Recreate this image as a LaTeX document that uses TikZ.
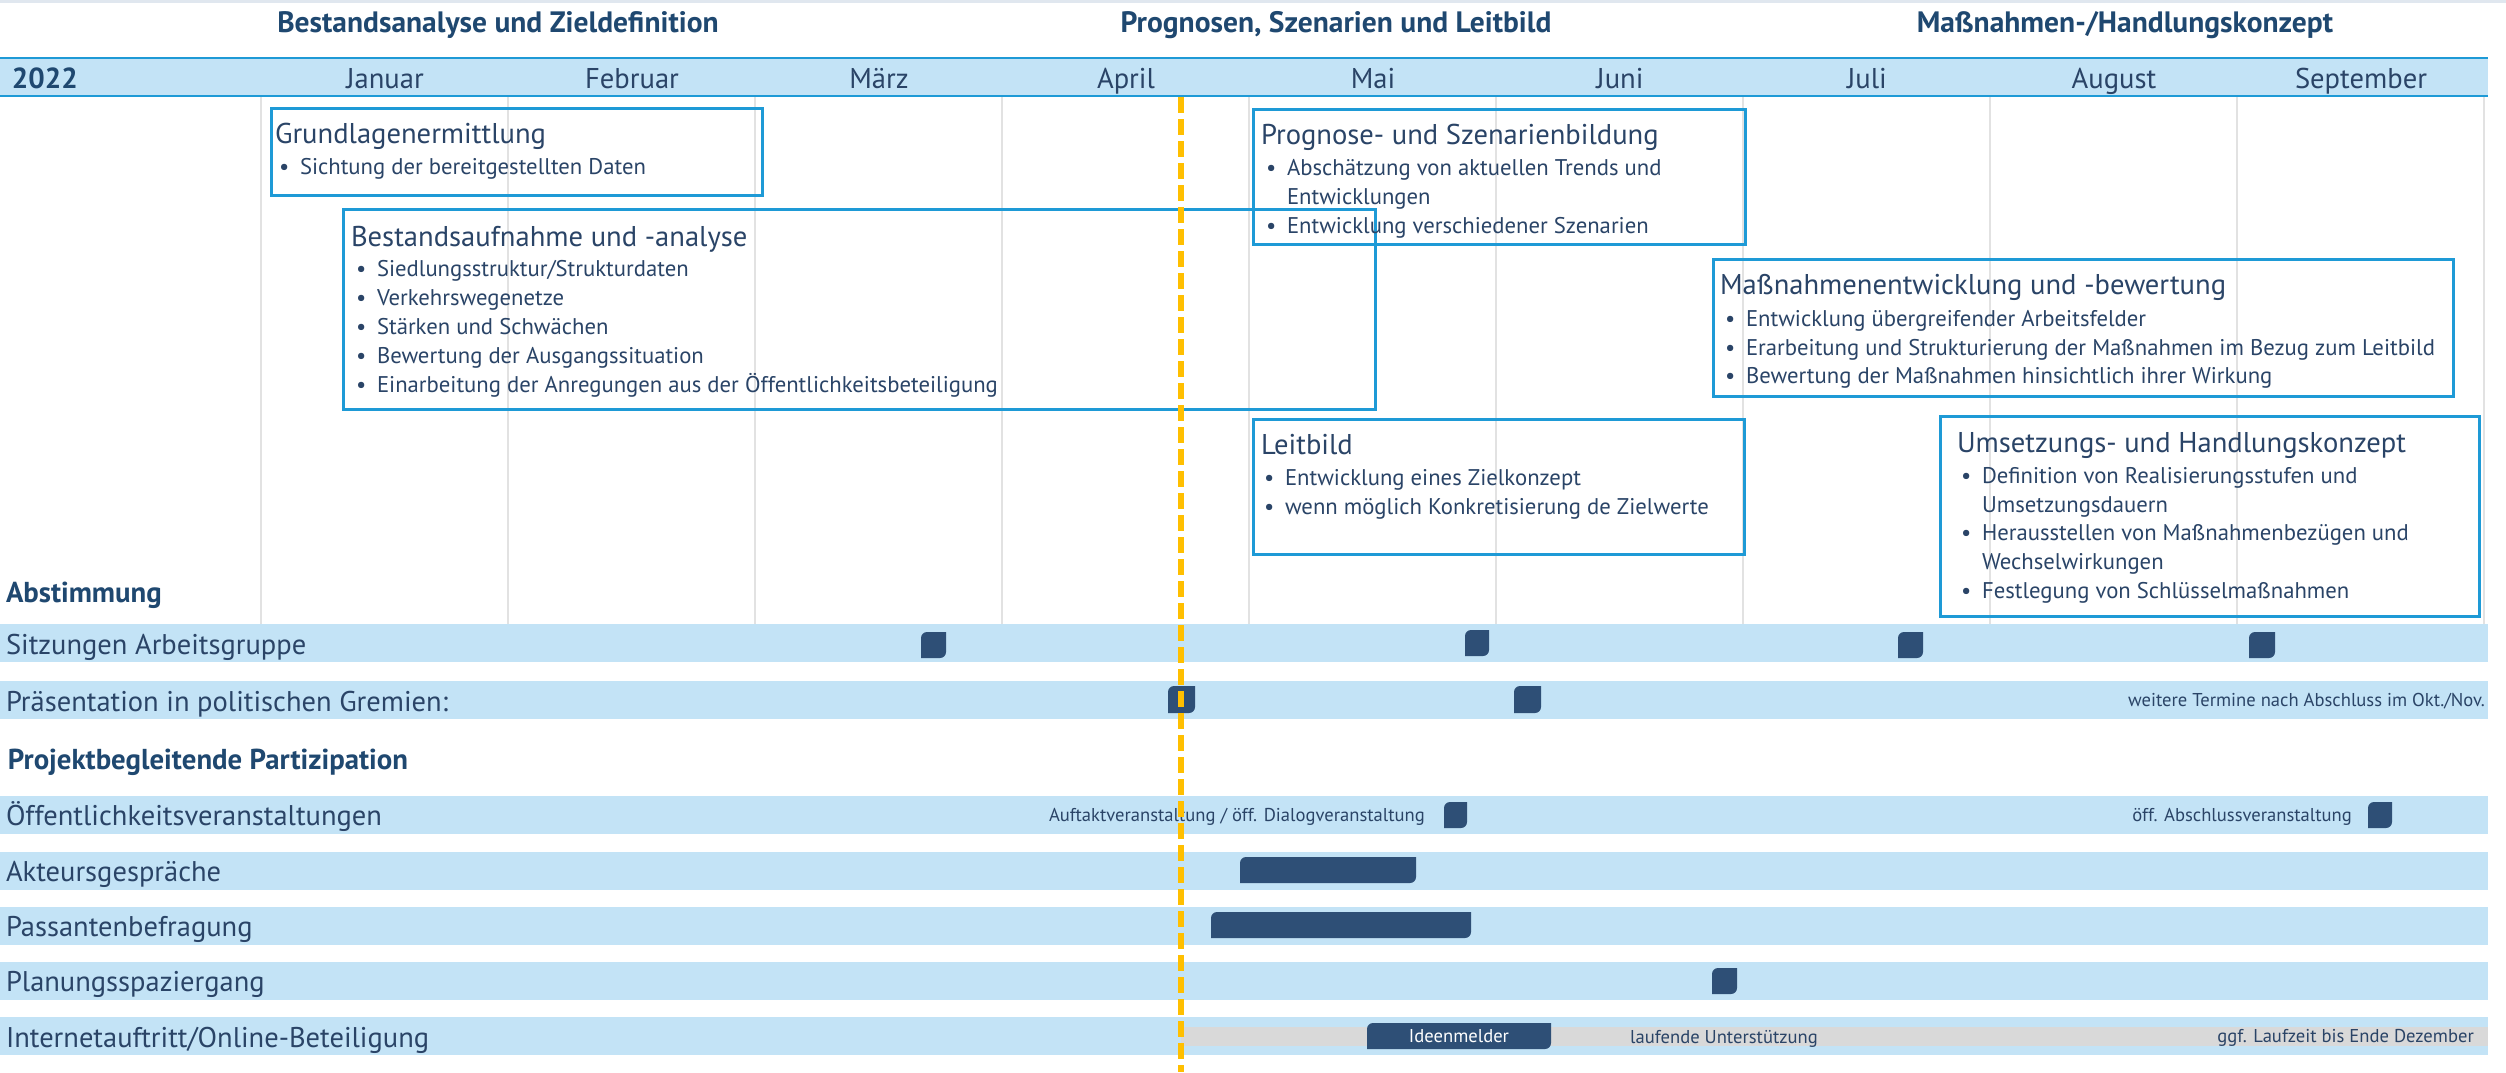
\documentclass[tikz,border=0pt]{standalone}
\usepackage{fontspec}
\setmainfont{PT Sans}
\definecolor{txt}{HTML}{2A4467}
\definecolor{hdr}{HTML}{1F4870}
\definecolor{band}{HTML}{C3E3F6}
\definecolor{bline}{HTML}{1E9AD6}
\definecolor{gridc}{HTML}{E2E2E2}
\definecolor{mk}{HTML}{2E4F76}
\definecolor{today}{HTML}{FFBF00}
\definecolor{greybar}{HTML}{D9D9D9}
\definecolor{topl}{HTML}{E0E7EF}
\tikzset{
 lbl/.style={inner sep=0pt, outer sep=0pt, text=txt, anchor=base west},
 body/.style={lbl, font=\fontsize{22.7}{26}\selectfont},
 btitle/.style={lbl, font=\fontsize{28.6}{32}\selectfont},
 rowlbl/.style={lbl, font=\fontsize{28.5}{32}\selectfont},
 sec/.style={lbl, font=\bfseries\fontsize{28.8}{32}\selectfont, text=hdr},
 phase/.style={inner sep=0pt, font=\bfseries\fontsize{29.5}{32}\selectfont, text=hdr, anchor=base},
 month/.style={inner sep=0pt, font=\fontsize{28.6}{32}\selectfont, text=txt, anchor=base},
 small/.style={inner sep=0pt, font=\fontsize{18.6}{22}\selectfont, text=txt},
 tlbox/.style={draw=bline, line width=2.5pt, inner sep=0pt, anchor=north west},
}
\newcommand\leafmk[4]{\fill[mk] (#1,#4) [rounded corners=6pt] -- (#1,#2) [sharp corners] -- (#3,#2) [rounded corners=6pt] -- (#3,#4) [sharp corners] -- cycle;}
\newcommand\bul{\makebox[21pt][l]{\textbullet}}
\begin{document}
\begin{tikzpicture}[x=1pt,y=-1pt]
\useasboundingbox (0,0) rectangle (2506,1072);
\fill[white] (0,0) rectangle (2506,1072);
\draw[topl, line width=3pt] (0,1.5) -- (2506,1.5);
% grid
\foreach \i in {0,...,9} \draw[gridc, line width=1.5pt] ({261+247*\i},97) -- ({261+247*\i},624);
% month band
\fill[band] (0,58) rectangle (2488,96);
\draw[bline, line width=2.5pt] (0,58) -- (2488,58);
\draw[bline, line width=2.5pt] (0,96) -- (2488,96);
\node[phase] (ph1) at (498,32) {Bestandsanalyse und Zieldefinition};
\node[phase] (ph2) at (1336,32) {Prognosen, Szenarien und Leitbild};
\node[phase] (ph3) at (2125,32) {Maßnahmen-/Handlungskonzept};
\node[lbl, font=\bfseries\fontsize{29}{32}\selectfont, text=hdr] (year) at (12,88) {2022};
\node[month] (m1) at (385,88) {Januar};
\node[month] (m2) at (632,88) {Februar};
\node[month] (m3) at (879,88) {März};
\node[month] (m4) at (1126,88) {April};
\node[month] (m5) at (1373,88) {Mai};
\node[month] (m6) at (1620,88) {Juni};
\node[month] (m7) at (1867,88) {Juli};
\node[month] (m8) at (2114,88) {August};
\node[month] (m9) at (2361,88) {September};
% row bands
\foreach \y in {624,681,796,852,907,962,1017} \fill[band] (0,\y) rectangle (2488,{\y+38});
% boxes
\node[tlbox, minimum width=491pt, minimum height=87pt] (bxGrund) at (270,107) {};
\node[tlbox, minimum width=1032pt, minimum height=200pt] (bxBestand) at (342,208) {};
\node[tlbox, minimum width=492pt, minimum height=135pt] (bxProg) at (1252,108) {};
\node[tlbox, minimum width=740pt, minimum height=137pt] (bxMass) at (1712,258) {};
\node[tlbox, minimum width=491pt, minimum height=135pt] (bxLeit) at (1252,418) {};
\node[tlbox, minimum width=539pt, minimum height=200pt] (bxUms) at (1939,415) {};
% box texts
\node[btitle] (tGrund) at (275,143) {Grundlagenermittlung};
\node[body] (gA) at (279,174) {\bul Sichtung der bereitgestellten Daten};
\node[btitle] (tBest) at (351,246) {Bestandsaufnahme und -analyse};
\node[body] (bA) at (356,276) {\bul Siedlungsstruktur/Strukturdaten};
\node[body] (bB) at (356,305) {\bul Verkehrswegenetze};
\node[body] (bC) at (356,334) {\bul Stärken und Schwächen};
\node[body] (bD) at (356,363) {\bul Bewertung der Ausgangssituation};
\node[body] (bE) at (356,392) {\bul Einarbeitung der Anregungen aus der Öffentlichkeitsbeteiligung};
\node[btitle] (tProg) at (1261,144) {Prognose- und Szenarienbildung};
\node[body] (pA) at (1266,175) {\bul Abschätzung von aktuellen Trends und};
\node[body] (pA2) at (1287,204) {Entwicklungen};
\node[body] (pB) at (1266,233) {\bul Entwicklung verschiedener Szenarien};
\node[btitle] (tMass) at (1720,294) {Maßnahmenentwicklung und -bewertung};
\node[body] (mA) at (1725,326) {\bul Entwicklung übergreifender Arbeitsfelder};
\node[body] (mB) at (1725,355) {\bul Erarbeitung und Strukturierung der Maßnahmen im Bezug zum Leitbild};
\node[body] (mC) at (1725,383) {\bul Bewertung der Maßnahmen hinsichtlich ihrer Wirkung};
\node[btitle] (tLeit) at (1261,454) {Leitbild};
\node[body] (lA) at (1264,485) {\bul Entwicklung eines Zielkonzept};
\node[body] (lB) at (1264,514) {\bul wenn möglich Konkretisierung de Zielwerte};
\node[btitle] (tUms) at (1957,452) {Umsetzungs- und Handlungskonzept};
\node[body] (uA) at (1961,483) {\bul Definition von Realisierungsstufen und};
\node[body] (uA2) at (1982,512) {Umsetzungsdauern};
\node[body] (uB) at (1961,540) {\bul Herausstellen von Maßnahmenbezügen und};
\node[body] (uB2) at (1982,569) {Wechselwirkungen};
\node[body] (uC) at (1961,598) {\bul Festlegung von Schlüsselmaßnahmen};
% row labels
\node[sec] (sAbst) at (6,602) {Abstimmung};
\node[rowlbl] (rSitz) at (6,654) {Sitzungen Arbeitsgruppe};
\node[rowlbl] (rPraes) at (6,711) {Präsentation in politischen Gremien:};
\node[sec] (sPart) at (8,769) {Projektbegleitende Partizipation};
\node[rowlbl] (rOeff) at (6,825) {Öffentlichkeitsveranstaltungen};
\node[rowlbl] (rAkt) at (6,881) {Akteursgespräche};
\node[rowlbl] (rPass) at (6,936) {Passantenbefragung};
\node[rowlbl] (rPlan) at (6,991) {Planungsspaziergang};
\node[rowlbl] (rInet) at (6,1047) {Internetauftritt/Online-Beteiligung};
% markers
\leafmk{921}{632}{946}{658}
\leafmk{1465}{630}{1489}{656}
\leafmk{1898}{632}{1923}{658}
\leafmk{2249}{632}{2275}{658}
\leafmk{1168}{686}{1195}{713}
\leafmk{1514}{686}{1541}{713}
\leafmk{1444}{802}{1467}{828}
\leafmk{2368}{802}{2392}{828}
\leafmk{1240}{857}{1416}{883}
\leafmk{1211}{912}{1471}{938}
\leafmk{1712}{968}{1737}{994}
\fill[greybar] (1181,1027) rectangle (2488,1046);
\leafmk{1367}{1023}{1551}{1049}
% small texts
\node[small, anchor=base east] (tAuftakt) at (1425,821) {Auftaktveranstaltung / öff. Dialogveranstaltung};
\node[small, anchor=base east] (tAbschl) at (2352,821) {öff. Abschlussveranstaltung};
\node[small, anchor=base east] (tWeitere) at (2485,706) {weitere Termine nach Abschluss im Okt./Nov.};
\node[small, anchor=base west] (tLauf) at (1630,1043) {laufende Unterstützung};
\node[small, anchor=base east] (tGgf) at (2474,1042) {ggf. Laufzeit bis Ende Dezember};
\node[small, anchor=base, text=white] (tIdeen) at (1459,1042) {Ideenmelder};
% today line
\draw[today, line width=5.5pt, dash pattern=on 16pt off 6pt] (1181,97) -- (1181,1072);
\end{tikzpicture}
\end{document}
